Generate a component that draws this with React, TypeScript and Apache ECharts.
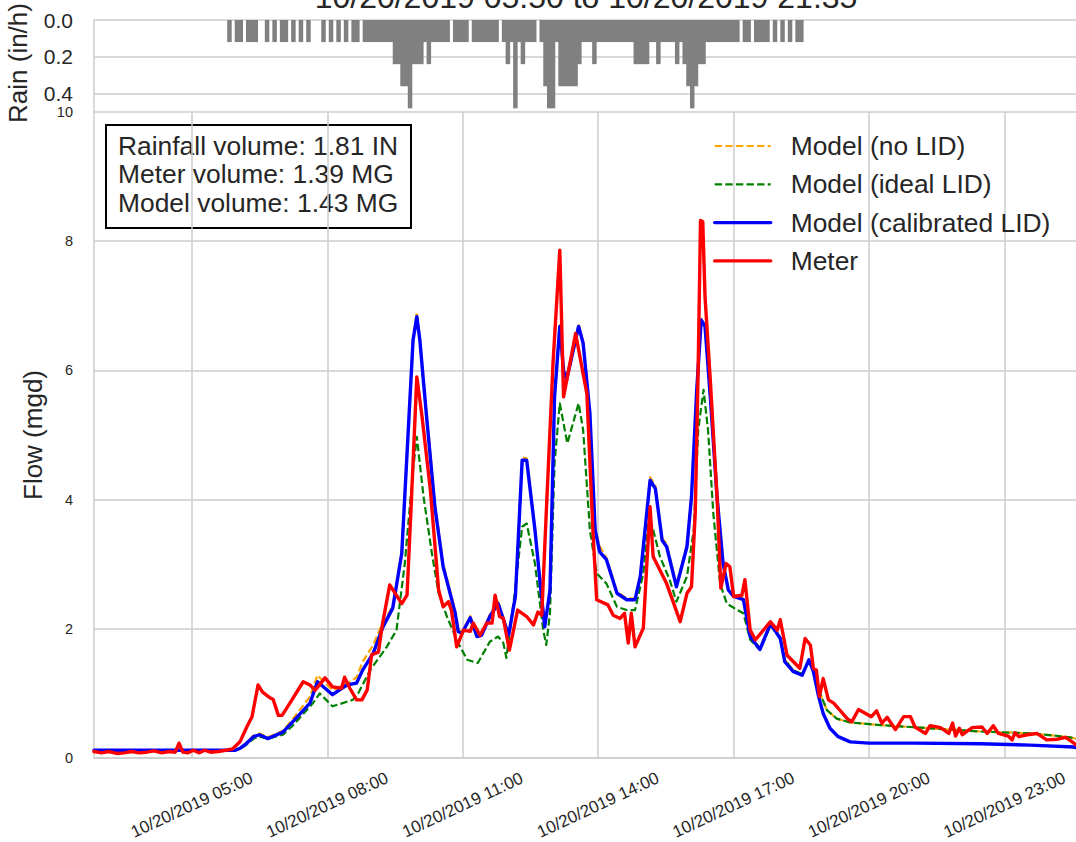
import React, { useEffect, useRef } from 'react';
import * as echarts from 'echarts';

const FONT = 'Liberation Sans, Arial, Helvetica, sans-serif';
const TXT = '#262626';
const GRID = '#cccccc';

const toTime = (s: string): number => {
  const [h, m] = s.split(':').map(Number);
  return new Date(2019, 9, 20, h, m).getTime();
};
const pad = (n: number) => String(n).padStart(2, '0');

const titleText = '10/20/2019 05:50 to 10/20/2019 21:35';
const xStart = '02:50';
const xEnd = '24:35';
const xTickTimes = ['05:00', '08:00', '11:00', '14:00', '17:00', '20:00', '23:00'];
const rainTickValues = [0, 0.2, 0.4];
const boxLines = ['Rainfall volume: 1.81 IN', 'Meter volume: 1.39 MG', 'Model volume: 1.43 MG'];
const seriesNames = ['Model (no LID)', 'Model (ideal LID)', 'Model (calibrated LID)', 'Meter'];

// Rain intensity (in/h), 5-minute steps starting at rainStart
const rainStart = '05:45';
const rainRate = [
  0, 0.12, 0, 0.12, 0.12, 0, 0.12, 0.12, 0.12, 0, 0, 0.12,
  0, 0.12, 0, 0.12, 0.12, 0, 0.12, 0, 0.12, 0, 0.12, 0,
  0, 0, 0.12, 0, 0.12, 0, 0.12, 0, 0.12, 0, 0.12, 0.12,
  0, 0.12, 0.12, 0.12, 0.12, 0.12, 0.12, 0.12, 0.12, 0.24, 0.24, 0.36,
  0.36, 0.48, 0.24, 0.24, 0.24, 0.12, 0.24, 0.12, 0.12, 0.12, 0.12, 0.12,
  0, 0.12, 0.12, 0.12, 0.12, 0, 0.12, 0.12, 0.12, 0.12, 0.12, 0.12,
  0.12, 0, 0.12, 0.24, 0.12, 0.48, 0.12, 0.24, 0.12, 0.12, 0.12, 0,
  0.12, 0.36, 0.48, 0.48, 0.12, 0.36, 0.36, 0.36, 0.36, 0.36, 0.24, 0.12,
  0.12, 0.12, 0.24, 0.12, 0.12, 0.12, 0.12, 0.12, 0.12, 0.12, 0.12, 0.12,
  0.12, 0.24, 0.24, 0.24, 0.24, 0.12, 0.12, 0.24, 0.12, 0.12, 0.12, 0.12,
  0.24, 0.12, 0.24, 0.36, 0.48, 0.36, 0.24, 0.24, 0.12, 0.12, 0.12, 0.12,
  0.12, 0.12, 0.12, 0.12, 0.12, 0, 0.12, 0.12, 0, 0.12, 0.12, 0.12,
  0.12, 0, 0.12, 0, 0.12, 0, 0.12, 0, 0.12, 0.12,
];

// Model (calibrated LID)
const calTimes = [
  '02:50', '03:30', '04:30', '05:30', '05:58', '06:04', '06:12', '06:22', '06:30', '06:41',
  '07:01', '07:14', '07:37', '07:47', '08:07', '08:26', '08:39', '08:47', '09:01', '09:14',
  '09:27', '09:39', '09:54', '09:59', '10:03', '10:12', '10:23', '10:34', '10:41', '10:50',
  '10:54', '10:59', '11:10', '11:19', '11:25', '11:36', '11:47', '12:01', '12:10', '12:19',
  '12:25', '12:36', '12:43', '12:49', '12:56', '13:02', '13:09', '13:14', '13:18', '13:34',
  '13:40', '13:49', '13:56', '14:02', '14:11', '14:25', '14:38', '14:49', '14:56', '15:09',
  '15:16', '15:25', '15:31', '15:44', '15:58', '16:04', '16:11', '16:17', '16:22', '16:29',
  '16:38', '16:46', '16:53', '17:00', '17:13', '17:22', '17:35', '17:49', '18:02', '18:08',
  '18:19', '18:31', '18:40', '18:46', '18:53', '18:59', '19:08', '19:19', '19:35', '20:00',
  '21:00', '22:28', '23:34', '24:32', '24:35',
];
const calFlow = [
  0.12, 0.12, 0.12, 0.12, 0.12, 0.15, 0.22, 0.33, 0.36, 0.3,
  0.4, 0.56, 0.85, 1.18, 0.98, 1.13, 1.16, 1.36, 1.62, 2.03,
  2.32, 3.17, 6.47, 6.83, 6.47, 5.28, 3.89, 2.96, 2.65, 2.24,
  1.96, 1.93, 2.17, 1.88, 1.9, 2.19, 2.39, 1.9, 2.5, 4.61,
  4.61, 3.53, 2.7, 2.03, 2.6, 5.59, 6.68, 6.0, 5.85, 6.68,
  6.42, 5.34, 3.53, 3.19, 3.07, 2.55, 2.45, 2.45, 2.81, 4.3,
  4.17, 3.37, 3.27, 2.65, 3.27, 4.04, 5.7, 6.78, 6.68, 5.59,
  4.04, 3.01, 2.6, 2.5, 2.45, 1.88, 1.68, 2.08, 1.85, 1.49,
  1.34, 1.28, 1.52, 1.34, 0.95, 0.69, 0.46, 0.33, 0.25, 0.23,
  0.23, 0.22, 0.2, 0.17, 0.16,
];

// Model (no LID)
const noLidTimes = [
  '02:50', '03:30', '04:30', '05:30', '05:58', '06:04', '06:12', '06:22', '06:30', '06:41',
  '07:01', '07:14', '07:37', '07:47', '08:07', '08:26', '08:39', '08:47', '09:01', '09:14',
  '09:27', '09:39', '09:54', '09:59', '10:03', '10:12', '10:23', '10:34', '10:41', '10:50',
  '10:54', '10:59', '11:10', '11:19', '11:25', '11:36', '11:47', '12:01', '12:10', '12:19',
  '12:25', '12:36', '12:43', '12:49', '12:56', '13:02', '13:09', '13:14', '13:18', '13:34',
  '13:40', '13:49', '13:56', '14:02', '14:11', '14:25', '14:38', '14:49', '14:56', '15:09',
  '15:16', '15:25', '15:31', '15:44', '15:58', '16:04', '16:11', '16:17', '16:22', '16:29',
  '16:38', '16:46', '16:53', '17:00', '17:13', '17:22', '17:35', '17:49', '18:02', '18:08',
  '18:19', '18:31', '18:40', '18:46', '18:55', '19:04', '19:17', '19:35', '20:15', '21:21',
  '22:28', '23:38', '24:27', '24:35',
];
const noLidFlow = [
  0.12, 0.12, 0.12, 0.12, 0.12, 0.15, 0.23, 0.35, 0.38, 0.32,
  0.42, 0.6, 0.95, 1.28, 1.05, 1.15, 1.25, 1.49, 1.75, 2.1,
  2.35, 3.2, 6.5, 6.9, 6.5, 5.35, 3.95, 3.0, 2.7, 2.28,
  1.98, 1.95, 2.2, 1.9, 1.92, 2.22, 2.42, 1.92, 2.52, 4.65,
  4.64, 3.56, 2.72, 2.05, 2.62, 5.62, 6.7, 6.02, 5.88, 6.72,
  6.45, 5.37, 3.56, 3.28, 3.1, 2.58, 2.47, 2.47, 2.83, 4.35,
  4.22, 3.4, 3.32, 2.68, 3.3, 4.07, 5.72, 6.8, 6.7, 5.62,
  4.07, 3.04, 2.63, 2.52, 2.47, 1.9, 1.7, 2.1, 1.87, 1.52,
  1.36, 1.3, 1.53, 1.36, 1.0, 0.74, 0.61, 0.55, 0.51, 0.46,
  0.41, 0.38, 0.32, 0.3,
];

// Model (ideal LID)
const idealTimes = [
  '02:50', '05:58', '06:04', '06:12', '06:22', '06:30', '06:41', '07:01', '07:14', '07:41',
  '07:50', '08:07', '08:26', '08:34', '08:41', '08:57', '09:19', '09:32', '09:43', '09:54',
  '09:59', '10:08', '10:19', '10:28', '10:39', '10:52', '10:59', '11:06', '11:20', '11:36',
  '11:47', '11:54', '11:58', '12:08', '12:19', '12:25', '12:36', '12:47', '12:51', '12:56',
  '13:02', '13:09', '13:14', '13:19', '13:34', '13:40', '13:49', '13:58', '14:11', '14:25',
  '14:38', '14:49', '15:00', '15:07', '15:11', '15:22', '15:35', '15:44', '15:58', '16:07',
  '16:13', '16:20', '16:26', '16:33', '16:42', '16:51', '17:05', '17:13', '17:22', '17:35',
  '17:49', '18:02', '18:08', '18:19', '18:31', '18:40', '18:46', '18:55', '19:04', '19:17',
  '19:35', '20:15', '21:21', '22:28', '23:38', '24:27', '24:35',
];
const idealFlow = [
  0.12, 0.12, 0.14, 0.2, 0.3, 0.33, 0.3, 0.36, 0.5, 0.85,
  1.0, 0.8, 0.87, 0.9, 1.0, 1.36, 1.72, 1.98, 3.01, 4.46,
  4.97, 4.04, 3.17, 2.55, 2.19, 1.83, 1.67, 1.52, 1.47, 1.8,
  1.88, 1.78, 1.55, 2.45, 3.58, 3.63, 3.01, 1.98, 1.75, 2.24,
  4.56, 5.49, 5.18, 4.87, 5.49, 5.08, 3.53, 2.86, 2.7, 2.34,
  2.29, 2.29, 2.86, 3.68, 3.63, 3.12, 2.76, 2.42, 2.81, 3.53,
  5.08, 5.7, 5.08, 3.79, 2.7, 2.39, 2.29, 2.24, 1.83, 1.67,
  2.05, 1.85, 1.52, 1.36, 1.3, 1.5, 1.36, 1.0, 0.74, 0.61,
  0.55, 0.51, 0.46, 0.41, 0.38, 0.32, 0.3,
];

// Meter
const meterTimes = [
  '02:50', '03:00', '03:10', '03:20', '03:30', '03:40', '03:50', '04:00', '04:10', '04:20',
  '04:30', '04:38', '04:43', '04:48', '04:55', '05:02', '05:10', '05:17', '05:25', '05:35',
  '05:45', '05:54', '06:04', '06:13', '06:20', '06:28', '06:34', '06:44', '06:48', '06:55',
  '07:00', '07:13', '07:28', '07:37', '07:44', '07:57', '08:07', '08:19', '08:23', '08:30',
  '08:39', '08:46', '08:53', '08:59', '09:08', '09:13', '09:23', '09:39', '09:46', '09:52',
  '09:59', '10:06', '10:17', '10:28', '10:34', '10:41', '10:45', '10:52', '11:01', '11:10',
  '11:14', '11:23', '11:32', '11:39', '11:43', '11:49', '11:54', '12:02', '12:13', '12:25',
  '12:34', '12:40', '12:45', '12:51', '13:00', '13:09', '13:14', '13:30', '13:45', '13:53',
  '13:58', '14:13', '14:20', '14:29', '14:35', '14:40', '14:44', '14:49', '15:00', '15:04',
  '15:09', '15:13', '15:31', '15:49', '15:58', '16:04', '16:09', '16:13', '16:16', '16:19',
  '16:22', '16:29', '16:38', '16:43', '16:50', '16:55', '17:00', '17:11', '17:15', '17:22',
  '17:29', '17:49', '17:58', '18:02', '18:11', '18:28', '18:35', '18:42', '18:46', '18:50',
  '18:54', '18:59', '19:06', '19:13', '19:31', '19:37', '19:46', '20:03', '20:10', '20:17',
  '20:24', '20:35', '20:46', '20:55', '21:01', '21:15', '21:21', '21:35', '21:46', '21:51',
  '21:55', '22:00', '22:04', '22:17', '22:30', '22:37', '22:45', '22:52', '23:05', '23:10',
  '23:14', '23:19', '23:30', '23:43', '23:56', '24:10', '24:21', '24:30', '24:35',
];
const meterFlow = [
  0.1, 0.08, 0.1, 0.07, 0.08, 0.1, 0.08, 0.09, 0.11, 0.08,
  0.1, 0.09, 0.23, 0.09, 0.08, 0.12, 0.08, 0.12, 0.09, 0.1,
  0.12, 0.14, 0.25, 0.48, 0.64, 1.13, 1.02, 0.93, 0.91, 0.66,
  0.66, 0.9, 1.18, 1.13, 1.05, 1.24, 1.1, 1.08, 1.25, 1.08,
  0.9, 0.9, 1.05, 1.6, 1.64, 2.05, 2.68, 2.39, 2.52, 4.04,
  5.9, 5.28, 4.15, 2.6, 2.34, 2.42, 2.29, 1.72, 1.98, 1.96,
  2.09, 1.9, 2.09, 2.09, 2.52, 2.19, 2.16, 1.67, 2.29, 2.19,
  2.06, 2.26, 2.21, 3.79, 6.11, 7.86, 5.59, 6.57, 5.64, 3.53,
  2.45, 2.37, 2.21, 2.16, 2.24, 1.78, 2.24, 1.72, 2.01, 2.86,
  3.89, 3.12, 2.7, 2.11, 2.55, 2.65, 3.79, 6.11, 8.32, 8.3,
  7.14, 5.85, 4.04, 2.63, 3.01, 2.96, 2.5, 2.52, 2.76, 1.98,
  1.83, 2.11, 1.98, 2.14, 1.59, 1.39, 1.85, 1.75, 1.39, 1.36,
  0.95, 1.23, 0.9, 0.85, 0.61, 0.56, 0.75, 0.64, 0.73, 0.54,
  0.63, 0.44, 0.64, 0.64, 0.48, 0.38, 0.5, 0.47, 0.38, 0.54,
  0.34, 0.46, 0.36, 0.47, 0.48, 0.38, 0.5, 0.38, 0.34, 0.28,
  0.39, 0.33, 0.36, 0.38, 0.28, 0.29, 0.32, 0.25, 0.2,
];

const pairs = (times: string[], vals: number[]) => times.map((t, i) => [toTime(t), vals[i]]);

const buildOption = () => {
  const rainT0 = toTime(rainStart);
  const rainData = rainRate.map((v, i) => [rainT0 + i * 5 * 60 * 1000, v]);
  const xMin = toTime(xStart);
  const xMax = toTime(xEnd);
  const ticks = xTickTimes.map(toTime);
  const dash = [7.4, 3.2];

  return {
    animation: false,
    backgroundColor: '#ffffff',
    textStyle: { fontFamily: FONT },
    grid: [
      { left: 94, right: 0, top: 20, height: 92 },
      { left: 94, right: 0, top: 112, height: 646 },
    ],
    xAxis: [
      {
        type: 'value', gridIndex: 0, min: xMin, max: xMax,
        axisLine: { show: false }, axisTick: { show: false }, axisLabel: { show: false }, splitLine: { show: false },
      },
      {
        type: 'value', gridIndex: 1, min: xMin, max: xMax,
        axisLine: { show: true, onZero: false, lineStyle: { color: GRID, width: 1.5 } },
        axisTick: { show: false, customValues: ticks },
        axisLabel: {
          customValues: ticks,
          formatter: (v: number) => {
            const d = new Date(v);
            return `10/20/2019 ${pad(d.getHours())}:${pad(d.getMinutes())}`;
          },
          rotate: 25, align: 'center', verticalAlign: 'middle', margin: 47,
          fontSize: 17, color: TXT, fontFamily: FONT, hideOverlap: false,
        },
        splitLine: { show: true, lineStyle: { color: GRID, width: 1.5 } },
      },
    ],
    yAxis: [
      {
        type: 'value', gridIndex: 0, inverse: true, min: 0, max: 0.5, interval: 0.1,
        axisLine: { show: true, lineStyle: { color: GRID, width: 1.5 } },
        axisTick: { show: false, customValues: rainTickValues },
        axisLabel: {
          customValues: rainTickValues, formatter: (v: number) => v.toFixed(1),
          fontSize: 21, color: TXT, margin: 21, fontFamily: FONT,
        },
        splitLine: { show: true, lineStyle: { color: GRID, width: 1.5 } },
      },
      {
        type: 'value', gridIndex: 1, min: 0, max: 10, interval: 2,
        axisLine: { show: true, lineStyle: { color: GRID, width: 1.5 } },
        axisTick: { show: false },
        axisLabel: { fontSize: 14.5, color: TXT, margin: 21, fontFamily: FONT },
        splitLine: { show: true, lineStyle: { color: GRID, width: 1.5 } },
      },
    ],
    legend: {
      orient: 'vertical', left: 713, top: 131, padding: 0,
      itemWidth: 56, itemHeight: 14, itemGap: 8.3,
      data: seriesNames,
      itemStyle: { opacity: 0 },
      lineStyle: { width: 'inherit' },
      textStyle: { fontSize: 26.4, color: TXT, lineHeight: 30, fontFamily: FONT, padding: [0, 0, 0, 15] },
    },
    series: [
      {
        name: 'rain', type: 'bar', xAxisIndex: 0, yAxisIndex: 0, data: rainData,
        barWidth: 4.5, itemStyle: { color: '#808080' }, silent: true,
      },
      {
        name: seriesNames[0], type: 'line', xAxisIndex: 1, yAxisIndex: 1, data: pairs(noLidTimes, noLidFlow),
        symbol: 'none', showSymbol: false, color: '#ffa500',
        lineStyle: { color: '#ffa500', width: 2.2, type: dash, join: 'round' },
      },
      {
        name: seriesNames[1], type: 'line', xAxisIndex: 1, yAxisIndex: 1, data: pairs(idealTimes, idealFlow),
        symbol: 'none', showSymbol: false, color: '#008000',
        lineStyle: { color: '#008000', width: 2.2, type: dash, join: 'round' },
      },
      {
        name: seriesNames[2], type: 'line', xAxisIndex: 1, yAxisIndex: 1, data: pairs(calTimes, calFlow),
        symbol: 'none', showSymbol: false, color: '#0000ff',
        lineStyle: { color: '#0000ff', width: 3.4, join: 'round', cap: 'round' },
      },
      {
        name: seriesNames[3], type: 'line', xAxisIndex: 1, yAxisIndex: 1, data: pairs(meterTimes, meterFlow),
        symbol: 'none', showSymbol: false, color: '#ff0000',
        lineStyle: { color: '#ff0000', width: 3.4, join: 'round', cap: 'round' },
      },
    ],
    graphic: [
      {
        type: 'text', x: 586, y: -3, z: 50,
        style: { text: titleText, fontSize: 32, fill: TXT, align: 'center', verticalAlign: 'middle', fontFamily: FONT },
      },
      {
        type: 'text', x: 18, y: 63, rotation: Math.PI / 2, z: 50,
        style: { text: 'Rain (in/h)', fontSize: 26, fill: TXT, align: 'center', verticalAlign: 'middle', fontFamily: FONT },
      },
      {
        type: 'text', x: 33, y: 435, rotation: Math.PI / 2, z: 50,
        style: { text: 'Flow (mgd)', fontSize: 26, fill: TXT, align: 'center', verticalAlign: 'middle', fontFamily: FONT },
      },
      {
        type: 'group', z: 100,
        children: [
          { type: 'rect', shape: { x: 106, y: 125, width: 305, height: 103 }, style: { fill: '#ffffff', stroke: '#000000', lineWidth: 2 } },
          {
            type: 'text', x: 118, y: 132,
            style: { text: boxLines.join('\n'), fontSize: 26.4, lineHeight: 28.3, fill: TXT, fontFamily: FONT, verticalAlign: 'top' },
          },
        ],
      },
    ],
  };
};

export default function App() {
  const ref = useRef<HTMLDivElement>(null);
  useEffect(() => {
    if (!ref.current) return;
    const chart = echarts.init(ref.current, null, { renderer: 'svg' });
    chart.setOption(buildOption() as any);
    return () => chart.dispose();
  }, []);
  return (
    <div
      ref={ref}
      style={{ position: 'fixed', left: 0, top: 0, width: 1076, height: 842, background: '#ffffff' }}
    />
  );
}
